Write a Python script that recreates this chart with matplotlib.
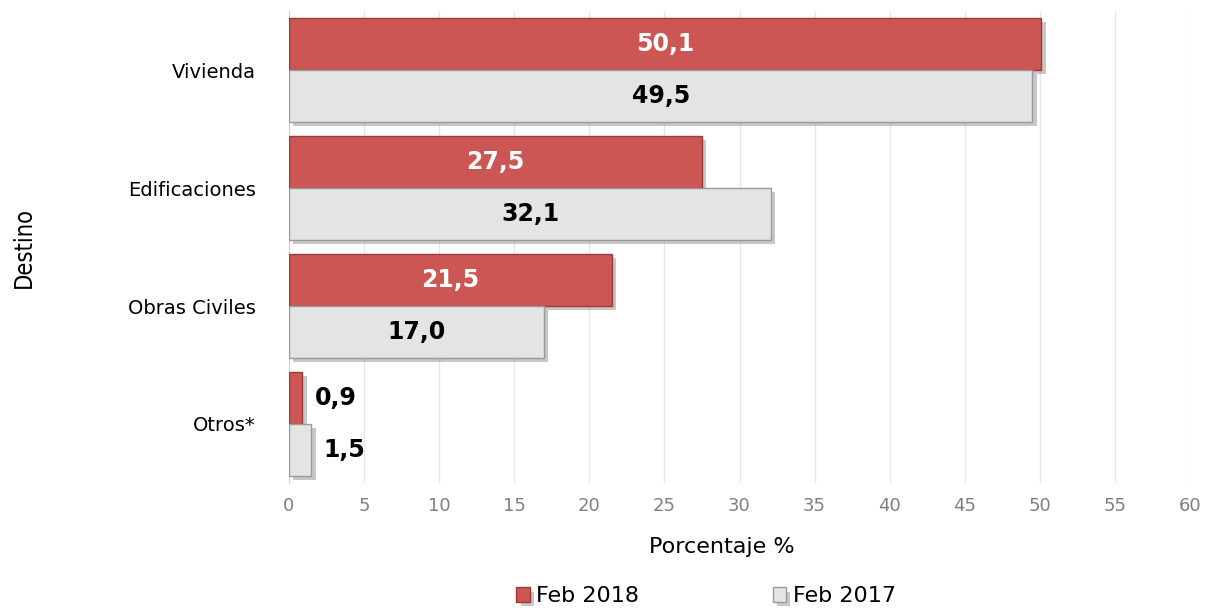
import numpy as np
import matplotlib.pyplot as plt
import matplotlib.patheffects as pe

plt.rcParams['font.family'] = ['DejaVu Sans']

destinos = ["Vivienda", "Edificaciones", "Obras Civiles", "Otros*"]
feb_2018 = [50.1, 27.5, 21.5, 0.9]
feb_2017 = [49.5, 32.1, 17.0, 1.5]
series_labels = ["Feb 2018", "Feb 2017"]

red = "#CC5654"
grey = "#E4E4E4"

fig = plt.figure(figsize=(12.07, 6.14), dpi=100)
ax = fig.add_axes([0.2394, 0.2134, 0.7466, 0.7686])

y = np.arange(len(destinos))
h = 0.44
shadow = [pe.withSimplePatchShadow(offset=(3, -3), shadow_rgbFace="#909090", alpha=0.5)]

b1 = ax.barh(y - h / 2, feb_2018, height=h, color=red, edgecolor="#9E3A38",
             linewidth=1.0, label=series_labels[0], path_effects=shadow, zorder=3)
b2 = ax.barh(y + h / 2, feb_2017, height=h, color=grey, edgecolor="#9A9A9A",
             linewidth=1.0, label=series_labels[1], path_effects=shadow, zorder=3)

def fmt(v):
    return f"{v:.1f}".replace(".", ",")

for bars, vals, tcol in [(b1, feb_2018, "white"), (b2, feb_2017, "black")]:
    for rect, v in zip(bars, vals):
        cy = rect.get_y() + rect.get_height() / 2
        if v > 5:
            ax.text(v / 2, cy, fmt(v), ha="center", va="center", color=tcol,
                    fontsize=17, fontweight="bold", zorder=5)
        else:
            ax.text(v + 0.8, cy, fmt(v), ha="left", va="center", color="black",
                    fontsize=17, fontweight="bold", zorder=5)

ax.set_xlim(0, 60)
ax.set_ylim(len(destinos) - 0.5, -0.5)
ax.set_xticks(np.arange(0, 61, 5))
ax.set_yticks(y)
ax.set_yticklabels(destinos, fontsize=14)
ax.tick_params(axis="x", colors="#7F7F7F", labelsize=13, length=0, pad=10)
ax.tick_params(axis="y", length=0, pad=24)
ax.xaxis.grid(True, color="#E6E6E6", linewidth=1, zorder=0)
ax.set_axisbelow(True)
for s in ["top", "right", "bottom"]:
    ax.spines[s].set_visible(False)
ax.spines["left"].set_color("#D0D0D0")

ax.set_xlabel("Porcentaje %", fontsize=16, labelpad=16, x=0.48)
ax.set_ylabel("Destino", fontsize=17, labelpad=66, fontstretch="condensed")

fig.legend(handles=[b1, b2], labels=series_labels, loc="lower center",
           bbox_to_anchor=(0.585, -0.02), ncol=2, frameon=False, fontsize=16,
           handlelength=0.6, handleheight=0.6, handletextpad=0.3, columnspacing=6)

fig.savefig("out.png", dpi=100)
